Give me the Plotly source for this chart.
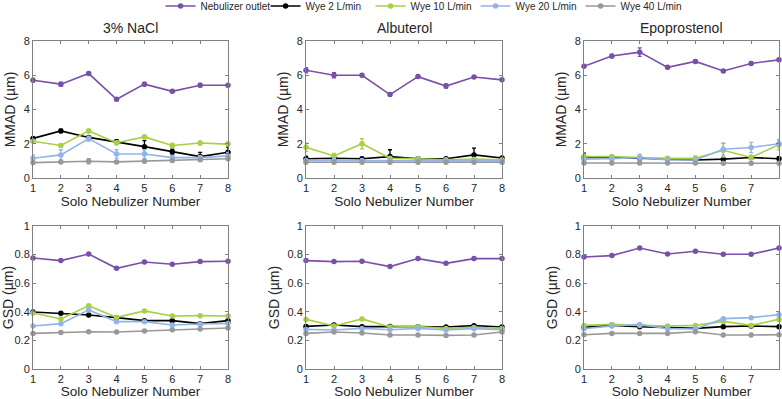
import plotly.graph_objects as go

nebulizers = [1, 2, 3, 4, 5, 6, 7, 8]
drugs = ["3% NaCl", "Albuterol", "Epoprostenol"]
series_names = ["Nebulizer outlet", "Wye 2 L/min", "Wye 10 L/min", "Wye 20 L/min", "Wye 40 L/min"]
colors = ["#7b4fa8", "#000000", "#a8cf45", "#92b4e6", "#999999"]

# MMAD (µm) per drug, per series
mmad_nacl = [
    [5.71, 5.48, 6.10, 4.60, 5.48, 5.06, 5.42, 5.42],
    [2.31, 2.75, 2.37, 2.12, 1.83, 1.54, 1.25, 1.50],
    [2.15, 1.90, 2.75, 2.06, 2.40, 1.90, 2.04, 1.98],
    [1.15, 1.35, 2.30, 1.40, 1.40, 1.19, 1.19, 1.29],
    [0.90, 0.94, 0.98, 0.94, 0.98, 1.02, 1.06, 1.12],
]
mmad_alb = [
    [6.29, 6.00, 6.00, 4.87, 5.92, 5.37, 5.90, 5.73],
    [1.12, 1.15, 1.12, 1.25, 1.12, 1.12, 1.35, 1.17],
    [1.79, 1.29, 2.00, 1.15, 1.12, 1.06, 1.10, 1.06],
    [1.02, 1.02, 1.02, 1.00, 1.00, 1.00, 1.00, 1.00],
    [0.92, 0.92, 0.92, 0.92, 0.92, 0.92, 0.92, 0.92],
]
mmad_epo = [
    [6.52, 7.12, 7.35, 6.46, 6.81, 6.25, 6.69, 6.90],
    [1.20, 1.20, 1.15, 1.10, 1.05, 1.10, 1.20, 1.12],
    [1.25, 1.25, 1.20, 1.15, 1.15, 1.62, 1.20, 1.95],
    [1.10, 1.12, 1.20, 1.05, 1.05, 1.68, 1.78, 2.00],
    [0.88, 0.88, 0.88, 0.88, 0.88, 0.86, 0.86, 0.86],
]
# MMAD error (µm)
mmad_err_nacl = [
    [0.10, 0.12, 0.08, 0.08, 0.10, 0.08, 0.10, 0.08],
    [0.08, 0.10, 0.08, 0.10, 0.35, 0.15, 0.25, 0.30],
    [0.10, 0.08, 0.10, 0.12, 0.10, 0.12, 0.10, 0.12],
    [0.20, 0.30, 0.15, 0.25, 0.25, 0.08, 0.08, 0.20],
    [0.08, 0.08, 0.15, 0.08, 0.08, 0.08, 0.08, 0.08],
]
mmad_err_alb = [
    [0.15, 0.15, 0.08, 0.08, 0.08, 0.12, 0.08, 0.08],
    [0.15, 0.12, 0.08, 0.40, 0.08, 0.08, 0.40, 0.08],
    [0.25, 0.15, 0.30, 0.08, 0.08, 0.08, 0.08, 0.08],
    [0.08, 0.08, 0.08, 0.08, 0.10, 0.08, 0.08, 0.08],
    [0.05, 0.05, 0.05, 0.05, 0.05, 0.05, 0.05, 0.05],
]
mmad_err_epo = [
    [0.08, 0.10, 0.25, 0.08, 0.10, 0.08, 0.10, 0.08],
    [0.25, 0.08, 0.08, 0.08, 0.08, 0.08, 0.08, 0.12],
    [0.15, 0.10, 0.10, 0.10, 0.12, 0.40, 0.12, 0.30],
    [0.12, 0.08, 0.20, 0.08, 0.08, 0.35, 0.30, 0.20],
    [0.05, 0.05, 0.05, 0.05, 0.05, 0.05, 0.05, 0.05],
]
# GSD (µm) per drug, per series
gsd_nacl = [
    [0.776, 0.758, 0.804, 0.704, 0.748, 0.732, 0.751, 0.753],
    [0.399, 0.389, 0.378, 0.359, 0.338, 0.338, 0.317, 0.338],
    [0.392, 0.350, 0.443, 0.361, 0.406, 0.371, 0.373, 0.371],
    [0.301, 0.317, 0.413, 0.331, 0.331, 0.308, 0.315, 0.319],
    [0.249, 0.256, 0.261, 0.259, 0.266, 0.275, 0.280, 0.287],
]
gsd_alb = [
    [0.758, 0.751, 0.753, 0.716, 0.772, 0.739, 0.772, 0.772],
    [0.298, 0.308, 0.296, 0.298, 0.296, 0.294, 0.303, 0.294],
    [0.347, 0.301, 0.350, 0.294, 0.296, 0.284, 0.291, 0.284],
    [0.277, 0.273, 0.284, 0.275, 0.284, 0.273, 0.282, 0.275],
    [0.249, 0.259, 0.252, 0.238, 0.238, 0.235, 0.238, 0.259],
]
gsd_epo = [
    [0.783, 0.793, 0.846, 0.804, 0.823, 0.802, 0.802, 0.846],
    [0.291, 0.305, 0.296, 0.291, 0.284, 0.296, 0.301, 0.296],
    [0.305, 0.312, 0.305, 0.301, 0.305, 0.333, 0.305, 0.347],
    [0.282, 0.301, 0.312, 0.282, 0.280, 0.352, 0.359, 0.380],
    [0.240, 0.249, 0.249, 0.249, 0.261, 0.238, 0.238, 0.240],
]

mmad_all = [mmad_nacl, mmad_alb, mmad_epo]
mmad_err_all = [mmad_err_nacl, mmad_err_alb, mmad_err_epo]
gsd_all = [gsd_nacl, gsd_alb, gsd_epo]

W, H = 782, 399
xdoms = [(33, 228), (306, 502), (584, 779)]
ydoms = [(41, 178), (226, 369)]

fig = go.Figure()
font_fam = "Liberation Sans, Arial, sans-serif"
axis_color = "#808080"
txt = "#262626"

layout = dict(
    width=W, height=H, margin=dict(l=0, r=0, t=0, b=0, autoexpand=False),
    plot_bgcolor="white", paper_bgcolor="white",
    font=dict(family=font_fam, color=txt),
    showlegend=True,
    legend=dict(orientation="h", x=0.541, xanchor="center", y=1 - 6 / H, yanchor="middle",
                font=dict(size=10, color=txt), itemwidth=30,
                entrywidth=60, entrywidthmode="pixels",
                bgcolor="rgba(0,0,0,0)"),
)

annotations = []
k = 0
for row in range(2):
    for col in range(3):
        k += 1
        xa = "xaxis" if k == 1 else f"xaxis{k}"
        ya = "yaxis" if k == 1 else f"yaxis{k}"
        xref = "x" if k == 1 else f"x{k}"
        yref = "y" if k == 1 else f"y{k}"
        x0, x1 = xdoms[col]
        y0, y1 = ydoms[row]
        layout[xa] = dict(
            domain=[x0 / W, x1 / W], anchor=yref, range=[1, 8],
            tickvals=nebulizers, ticks="inside", ticklen=3, tickcolor=axis_color,
            showline=True, linecolor=axis_color, linewidth=1, mirror="ticks",
            showgrid=False, zeroline=False,
            tickfont=dict(size=11, color=txt),
            title=dict(text="Solo Nebulizer Number", font=dict(size=13.5, color=txt), standoff=2),
        )
        if row == 0:
            yr, yt, ylab = [0, 8], [0, 2, 4, 6, 8], "MMAD (µm)"
        else:
            yr, yt, ylab = [0, 1], [0, 0.2, 0.4, 0.6, 0.8, 1], "GSD (µm)"
        layout[ya] = dict(
            domain=[1 - y1 / H, 1 - y0 / H], anchor=xref, range=yr,
            tickvals=yt, ticks="inside", ticklen=3, tickcolor=axis_color,
            showline=True, linecolor=axis_color, linewidth=1, mirror="ticks",
            showgrid=False, zeroline=False,
            tickfont=dict(size=11, color=txt),
            title=dict(text=ylab, font=dict(size=14, color=txt), standoff=4),
        )
        for s in range(5):
            if row == 0:
                yvals = mmad_all[col][s]
                err = dict(type="data", array=mmad_err_all[col][s], color=colors[s],
                           thickness=1.3, width=2, visible=True)
            else:
                yvals = gsd_all[col][s]
                err = None
            tr = go.Scatter(
                x=nebulizers, y=yvals, mode="lines+markers",
                name=series_names[s], legendgroup=series_names[s],
                showlegend=(k == 1),
                line=dict(color=colors[s], width=1.6),
                marker=dict(color=colors[s], size=5.5, symbol="circle"),
                xaxis=xref, yaxis=yref,
                cliponaxis=False,
            )
            if err is not None:
                tr.error_y = err
            fig.add_trace(tr)

for col, d in enumerate(drugs):
    x0, x1 = xdoms[col]
    annotations.append(dict(text=d, x=(x0 + x1) / 2 / W, y=1 - 28 / H, xref="paper", yref="paper",
                            showarrow=False, font=dict(size=14, color=txt),
                            xanchor="center", yanchor="middle"))
layout["annotations"] = annotations
fig.update_layout(**layout)
fig.write_html("out.html", config={"displayModeBar": False},
               post_script="document.body.style.margin='0';document.body.style.overflow='hidden';")
